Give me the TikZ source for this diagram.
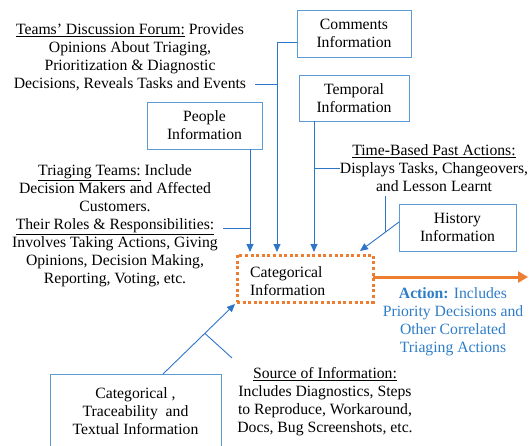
\documentclass[tikz,border=0pt]{standalone}
\usepackage{fontspec}
\setmainfont{Liberation Serif}
\usetikzlibrary{arrows.meta}
\definecolor{boxblue}{RGB}{91,155,213}
\definecolor{lineblue}{RGB}{46,117,200}
\definecolor{actblue}{RGB}{46,125,200}
\definecolor{orng}{RGB}{237,125,49}
\tikzset{
  infobox/.style={draw=boxblue, line width=0.9pt, fill=white, align=center, inner sep=0pt, font=\fontsize{15.7}{18}\selectfont},
  txt/.style={align=center, inner sep=0pt, font=\fontsize{15.7}{18}\selectfont},
  conn/.style={draw=lineblue, line width=0.9pt},
  arr/.style={conn, -{Triangle[length=8pt,width=7pt]}},
}
\begin{document}
\begin{tikzpicture}[x=1pt,y=-1pt]
\useasboundingbox (0,0) rectangle (532,445);
% boxes
\node[infobox, minimum width=114pt, minimum height=47pt] (comments) at (354,33.5) {Comments\\Information};
\node[infobox, minimum width=110pt, minimum height=46pt] (temporal) at (354,98) {Temporal\\Information};
\node[infobox, minimum width=115pt, minimum height=47pt] (people) at (204.5,125.5) {People\\Information};
\node[infobox, minimum width=117pt, minimum height=47pt] (history) at (457.5,227.5) {History\\Information};
\node[draw=orng, line width=3pt, dash pattern=on 3pt off 2.6pt, minimum width=136pt, minimum height=47pt, inner sep=0pt] (cat) at (305,278.5) {};
\node[txt, align=left, anchor=west] (cattext) at (250,281) {Categorical\\Information};
\node[infobox, minimum width=171pt, minimum height=72pt] (ctt) at (135.5,410) {};
\node[txt] (ctttext) at (135.5,411) {Categorical ,\\Traceability \ and\\Textual Information};
% texts
\node[txt] (teams) at (130,57) {\underline{Teams' Discussion Forum:} Provides\\Opinions About Triaging,\\Prioritization \& Diagnostic\\Decisions, Reveals Tasks and Events};
\node[txt] (triaging) at (115,226) {\underline{Triaging Teams:} Include\\Decision Makers and Affected\\Customers.\\\underline{Their Roles \& Responsibilities:}\\Involves Taking Actions, Giving\\Opinions, Decision Making,\\Reporting, Voting, etc.};
\node[txt] (timebased) at (434,168) {\underline{Time-Based Past Actions:}\\Displays Tasks, Changeovers,\\and Lesson Learnt};
\node[txt, text=actblue] (action) at (453,322) {\textbf{Action:} Includes\\Priority Decisions and\\Other Correlated\\Triaging Actions};
\node[txt] (source) at (325,402) {\underline{Source of Information:}\\Includes Diagnostics, Steps\\to Reproduce, Workaround,\\Docs, Bug Screenshots, etc.};
% junction coordinates
\coordinate (cj) at (277,42);
\coordinate (cin) at (277,252);
\coordinate (tj) at (277,84);
\coordinate (tstart) at (255,84);
\coordinate (pin) at (250,252);
\coordinate (pj) at (250,228);
\coordinate (trstart) at (223,228);
\coordinate (tmpout) at (314,121);
\coordinate (tmpin) at (314,252);
\coordinate (tmj) at (314,168);
\coordinate (tbstart) at (340,168);
\coordinate (hout) at (399,222);
\coordinate (hin) at (360,251);
\coordinate (tbdown) at (385,196);
\coordinate (hj) at (385,232);
\coordinate (cttout) at (163,374);
\coordinate (catin) at (235,304);
\coordinate (sj) at (205,333.5);
\coordinate (sstart) at (232,358);
\coordinate (oout) at (373,277);
\coordinate (oend) at (528,277);
% connectors
\draw[arr] (comments.west |- cj) -- (cj) -- (cin);
\draw[conn] (tstart) -- (tj);
\draw[arr] (people.south -| pin) -- (pin);
\draw[conn] (trstart) -- (pj);
\draw[arr] (tmpout) -- (tmpin);
\draw[conn] (tbstart) -- (tmj);
\draw[arr] (hout) -- (hin);
\draw[conn] (tbdown) -- (hj);
\draw[arr] (cttout) -- (catin);
\draw[conn] (sstart) -- (sj);
\draw[draw=orng, line width=3pt, -{Triangle[length=10pt,width=11pt]}] (oout) -- (oend);
\end{tikzpicture}
\end{document}
